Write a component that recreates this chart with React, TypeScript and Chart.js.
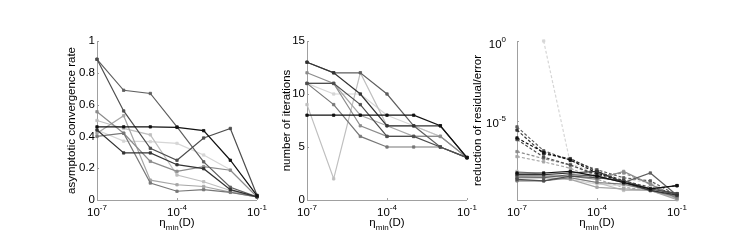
import React, { useEffect, useRef } from "react";
import { Chart, registerables } from "chart.js";
Chart.register(...registerables);

// ---------- data ----------
const etaValues = [1e-7, 1e-6, 1e-5, 1e-4, 1e-3, 1e-2, 1e-1];
const xTickValues = [1e-7, 1e-4, 1e-1];
const xTickExponents = ["-7", "-4", "-1"];

const seriesColors = ["#111111", "#333333", "#4d4d4d", "#5e5e5e", "#777777", "#8c8c8c", "#a6a6a6", "#bfbfbf", "#d6d6d6"];

// panel 1: asymptotic convergence rate
const rateTicks = [0, 0.2, 0.4, 0.6, 0.8, 1];
const rateTickLabels = ["0", "0.2", "0.4", "0.6", "0.8", "1"];
const rateSeries: number[][] = [
  [0.46, 0.46, 0.46, 0.457, 0.436, 0.25, 0.027],
  [0.44, 0.296, 0.296, 0.222, 0.197, 0.065, 0.02],
  [0.885, 0.56, 0.325, 0.25, 0.39, 0.45, 0.03],
  [0.885, 0.69, 0.67, 0.46, 0.24, 0.08, 0.02],
  [0.40, 0.42, 0.107, 0.055, 0.065, 0.048, 0.02],
  [0.555, 0.42, 0.243, 0.18, 0.21, 0.187, 0.02],
  [0.42, 0.53, 0.125, 0.096, 0.085, 0.05, 0.02],
  [0.50, 0.45, 0.41, 0.157, 0.115, 0.06, 0.02],
  [0.44, 0.37, 0.367, 0.356, 0.283, 0.19, 0.02],
];

// panel 2: number of iterations
const iterTicks = [0, 5, 10, 15];
const iterTickLabels = ["0", "5", "10", "15"];
const iterSeries: number[][] = [
  [8, 8, 8, 8, 8, 7, 4],
  [13, 12, 10, 7, 7, 7, 4],
  [11, 11, 9, 6, 6, 5, 4],
  [13, 12, 12, 10, 7, 5, 4],
  [11, 9, 6, 5, 5, 5, 4],
  [12, 11, 7, 6, 6, 6, 4],
  [11, 11, 8, 7, 6, 6, 4],
  [9, 2, 12, 7, 7, 6, 4],
  [11, 10, 10, 8, 7, 6, 4],
];

// panel 3: reduction of residual (dashed) / error (solid)
const reductionTicks = [1, 1e-5, 1e-10];
const reductionTickExponents = ["0", "-5", ""];
const errorSeries: number[][] = [
  [5e-9, 5e-9, 6.3e-9, 3.2e-9, 1.26e-9, 5e-10, 8e-10],
  [4e-9, 4e-9, 5e-9, 6.3e-9, 1.26e-9, 4e-10, 2e-10],
  [2e-9, 1.6e-9, 3.2e-9, 2.5e-9, 1.6e-9, 5e-10, 2.5e-10],
  [2.5e-9, 2.5e-9, 4e-9, 3.2e-9, 1.26e-9, 5e-9, 2e-10],
  [1.6e-9, 1.6e-9, 2.5e-9, 1.26e-9, 1e-9, 4e-10, 1.6e-10],
  [3.2e-9, 3.2e-9, 3.2e-9, 2e-9, 6.3e-9, 1e-9, 1.26e-10],
  [3.2e-9, 2.5e-9, 2e-9, 6.3e-10, 5e-10, 4e-10, 1.05e-10],
  [6.3e-9, 4e-9, 2.5e-9, 1.26e-9, 4e-10, 4e-10, 1.26e-10],
  [4e-9, 3.2e-9, 2e-9, 1e-9, 8e-10, 6.3e-10, 1.26e-10],
];
const residualColorIndex = [0, 1, 2, 3, 5, 6, 8];
const residualSeries: (number | null)[][] = [
  [8e-7, 1e-7, 3.2e-8, 5e-9, 1.26e-9, 5e-10, 8e-10],
  [2.5e-6, 8e-8, 4e-8, 6.3e-9, 1.6e-9, 5e-10, 2.5e-10],
  [6.3e-7, 5e-8, 1.6e-8, 4e-9, 1.6e-9, 6.3e-10, 2.5e-10],
  [4e-6, 1.26e-7, 3.2e-8, 8e-9, 2.5e-9, 1.6e-9, 2e-10],
  [1.1e-7, 4e-8, 1.6e-8, 3.2e-9, 5e-9, 1e-9, 1.6e-10],
  [5.4e-8, 2.5e-8, 1e-8, 2e-9, 6.3e-10, 4e-10, 1.26e-10],
  [null, 1, 2e-8, 5e-9, 2e-9, 1.26e-9, 1.6e-10],
];

// ---------- drawing helpers ----------
const FONT = '"Liberation Sans", Arial, Helvetica, sans-serif';
const MAIN = `11.5px ${FONT}`;
const SMALL = `8px ${FONT}`;
const AXIS = "#a0a0a0";

function drawPower(ctx: CanvasRenderingContext2D, exp: string, x: number, baseline: number, align: "center" | "right") {
  ctx.font = MAIN;
  const w1 = ctx.measureText("10").width;
  ctx.font = SMALL;
  const w2 = ctx.measureText(exp).width;
  const total = w1 + w2;
  const start = align === "center" ? x - total / 2 : x - total;
  ctx.textAlign = "left";
  ctx.textBaseline = "alphabetic";
  ctx.font = MAIN;
  ctx.fillText("10", start, baseline);
  ctx.font = SMALL;
  ctx.fillText(exp, start + w1, baseline - 6);
}

type PanelCfg = {
  left: number;
  yType: "linear" | "logarithmic";
  yMin: number;
  yMax: number;
  yTicks: number[];
  yLabels?: string[];
  yExps?: string[];
  title: string;
  titleX: number;
  datasets: any[];
};

function makeDataset(values: (number | null)[], color: string, dashed: boolean) {
  return {
    data: etaValues.map((x, i) => ({ x, y: values[i] })),
    borderColor: color,
    backgroundColor: color,
    borderWidth: 1.2,
    borderDash: dashed ? [3, 2] : [],
    pointStyle: "rect",
    pointRadius: 1.7,
    pointBorderWidth: 0.8,
    pointBackgroundColor: color,
    pointBorderColor: color,
    fill: false,
    tension: 0,
    clip: false,
  };
}

const axesPlugin = (cfg: PanelCfg) => ({
  id: "matlabAxes",
  beforeDatasetsDraw(chart: any) {
    const ctx = chart.ctx as CanvasRenderingContext2D;
    const { left, right, top, bottom } = chart.chartArea;
    const xs = chart.scales.x;
    const ys = chart.scales.y;
    ctx.save();
    ctx.strokeStyle = AXIS;
    ctx.lineWidth = 1;
    ctx.beginPath();
    ctx.moveTo(Math.round(left) + 0.5, top);
    ctx.lineTo(Math.round(left) + 0.5, Math.round(bottom) + 0.5);
    ctx.lineTo(right, Math.round(bottom) + 0.5);
    ctx.stroke();
    // ticks (inward)
    ctx.beginPath();
    xTickValues.forEach((v) => {
      const px = Math.round(xs.getPixelForValue(v)) + 0.5;
      ctx.moveTo(px, bottom);
      ctx.lineTo(px, bottom - 2);
    });
    cfg.yTicks.forEach((v) => {
      const py = Math.round(ys.getPixelForValue(v)) + 0.5;
      ctx.moveTo(left, py);
      ctx.lineTo(left + 2, py);
    });
    ctx.stroke();
    ctx.restore();
  },
  afterDraw(chart: any) {
    const ctx = chart.ctx as CanvasRenderingContext2D;
    const { left, right, top, bottom } = chart.chartArea;
    const xs = chart.scales.x;
    const ys = chart.scales.y;
    ctx.save();
    ctx.fillStyle = "#000";
    // x tick labels
    xTickValues.forEach((v, i) => {
      drawPower(ctx, xTickExponents[i], xs.getPixelForValue(v), 216, "center");
    });
    // y tick labels
    cfg.yTicks.forEach((v, i) => {
      const py = ys.getPixelForValue(v);
      if (cfg.yLabels) {
        ctx.font = MAIN;
        ctx.textAlign = "right";
        ctx.textBaseline = "middle";
        ctx.fillText(cfg.yLabels[i], left - 2, py);
      } else if (cfg.yExps && cfg.yExps[i]) {
        drawPower(ctx, cfg.yExps[i], left - 11, py + 6.5, "right");
      }
    });
    // x title: η_min(D)
    ctx.font = MAIN;
    const wEta = ctx.measureText("\u03b7").width;
    const wD = ctx.measureText("(D)").width;
    ctx.font = SMALL;
    const wMin = ctx.measureText("min").width;
    const total = wEta + wMin + wD;
    let sx = (left + right) / 2 - total / 2;
    ctx.textAlign = "left";
    ctx.textBaseline = "alphabetic";
    ctx.font = MAIN;
    ctx.fillText("\u03b7", sx, 226);
    ctx.font = SMALL;
    ctx.fillText("min", sx + wEta, 229.5);
    ctx.font = MAIN;
    ctx.fillText("(D)", sx + wEta + wMin, 226);
    // y title
    ctx.translate(cfg.titleX, (top + bottom) / 2);
    ctx.rotate(-Math.PI / 2);
    ctx.textAlign = "center";
    ctx.textBaseline = "middle";
    ctx.font = MAIN;
    ctx.fillText(cfg.title, 0, 0);
    ctx.restore();
  },
});

function Panel({ cfg }: { cfg: PanelCfg }) {
  const ref = useRef<HTMLCanvasElement | null>(null);
  useEffect(() => {
    if (!ref.current) return;
    const chart = new Chart(ref.current, {
      type: "line",
      data: { datasets: cfg.datasets },
      options: {
        responsive: false,
        animation: false,
        layout: { padding: { left: cfg.left, right: 747 - (cfg.left + 160), top: 41, bottom: 50 } },
        plugins: { legend: { display: false }, tooltip: { enabled: false } },
        scales: {
          x: { type: "logarithmic", min: 1e-7, max: 1e-1, display: false },
          y: { type: cfg.yType, min: cfg.yMin, max: cfg.yMax, display: false },
        },
      } as any,
      plugins: [axesPlugin(cfg) as any],
    });
    return () => chart.destroy();
  }, []);
  return <canvas ref={ref} width={747} height={250} style={{ position: "absolute", left: 0, top: 0 }} />;
}

const panels: PanelCfg[] = [
  {
    left: 97,
    yType: "linear",
    yMin: 0,
    yMax: 1,
    yTicks: rateTicks,
    yLabels: rateTickLabels,
    title: "asymptotic convergence rate",
    titleX: 72,
    datasets: rateSeries.map((s, i) => makeDataset(s, seriesColors[i], false)),
  },
  {
    left: 307,
    yType: "linear",
    yMin: 0,
    yMax: 15,
    yTicks: iterTicks,
    yLabels: iterTickLabels,
    title: "number of iterations",
    titleX: 287,
    datasets: iterSeries.map((s, i) => makeDataset(s, seriesColors[i], false)),
  },
  {
    left: 517,
    yType: "logarithmic",
    yMin: 1e-10,
    yMax: 1,
    yTicks: reductionTicks,
    yExps: reductionTickExponents,
    title: "reduction of residual/error",
    titleX: 478,
    datasets: [
      ...errorSeries.map((s, i) => makeDataset(s, seriesColors[i], false)),
      ...residualSeries.map((s, i) => makeDataset(s, seriesColors[residualColorIndex[i]], true)),
    ],
  },
];

export default function App() {
  return (
    <div style={{ position: "absolute", left: 0, top: 0, width: 747, height: 250, background: "#fff" }}>
      {panels.map((p, i) => (
        <Panel key={i} cfg={p} />
      ))}
    </div>
  );
}
